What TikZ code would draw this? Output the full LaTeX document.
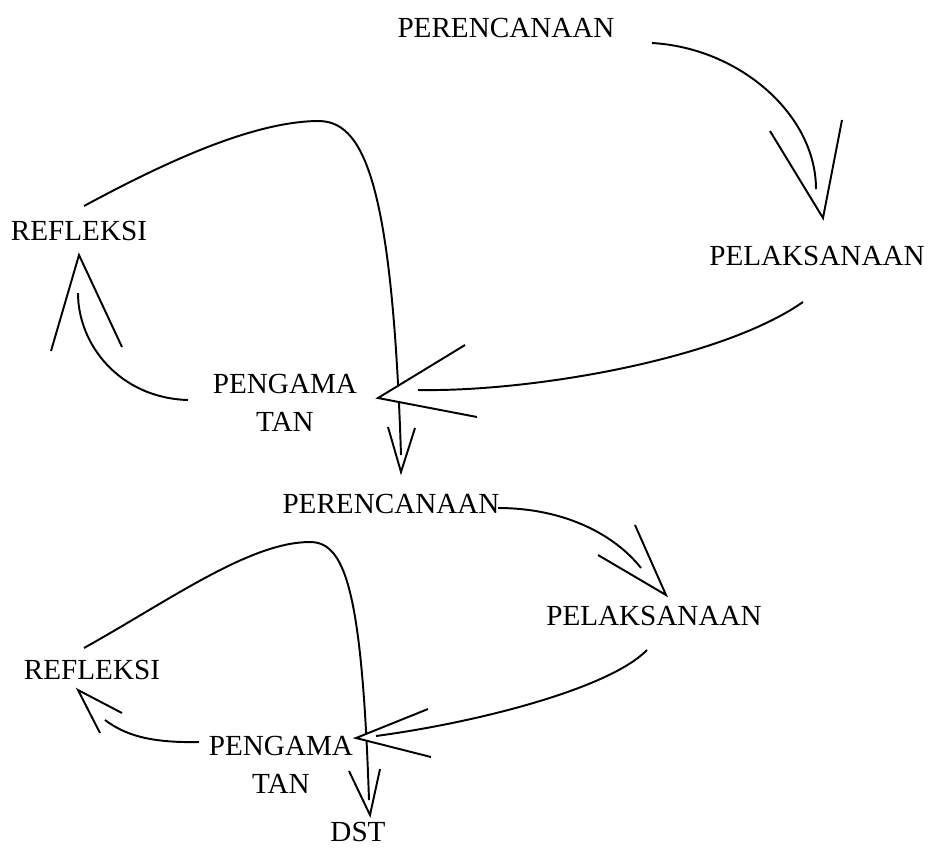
\documentclass[tikz,border=0pt]{standalone}
\usepackage{fontspec}
\setmainfont{Liberation Serif}
\begin{document}
\begin{tikzpicture}[x=0.4117pt,y=-0.4117pt,line width=0.8pt,
    lbl/.style={inner sep=0pt,font=\fontsize{12}{15.6}\selectfont},
    head/.style={line join=miter},
    cover/.style={head,fill=white}]
  \useasboundingbox (0,0) rectangle (930,848);
  % first cycle
  \node[lbl] (plan1) at (506,28) {PERENCANAAN};
  \node[lbl] (act1) at (817,256) {PELAKSANAAN};
  \node[lbl,align=center] (obs1) at (285,403) {PENGAMA\\TAN};
  \node[lbl] (refl1) at (79,231) {REFLEKSI};
  % second cycle
  \node[lbl] (plan2) at (391,504) {PERENCANAAN};
  \node[lbl] (act2) at (654,616) {PELAKSANAAN};
  \node[lbl,align=center] (obs2) at (281,765) {PENGAMA\\TAN};
  \node[lbl] (refl2) at (92,670) {REFLEKSI};
  \node[lbl] (dst) at (358,832) {DST};
  % ends of the curves
  \coordinate (c1a) at (652,43);  \coordinate (c1b) at (816,189);
  \coordinate (c2a) at (803,302); \coordinate (c2b) at (418,390);
  \coordinate (c3a) at (188,400); \coordinate (c3b) at (78,293);
  \coordinate (c4a) at (84,206);  \coordinate (c4b) at (401,455);
  \coordinate (c5a) at (498,508); \coordinate (c5b) at (641,568);
  \coordinate (c6a) at (647,650); \coordinate (c6b) at (376,736);
  \coordinate (c7a) at (199,742); \coordinate (c7b) at (105,720);
  \coordinate (c8a) at (84,648);  \coordinate (c8b) at (369,800);
  % tips
  \coordinate (t1) at (823,218); \coordinate (t2) at (378,398);
  \coordinate (t3) at (79,255);  \coordinate (t4) at (401,472);
  \coordinate (t5) at (666,595); \coordinate (t6) at (356,738);
  \coordinate (t7) at (78,690);  \coordinate (t8) at (370,815);
  % the two loops go under the heads
  \draw (c4a) .. controls (160,165) and (250,122) .. (317,121)
        .. controls (362,120) and (392,175) .. (c4b);
  \draw (c8a) .. controls (170,600) and (250,542) .. (310,542)
        .. controls (345,542) and (362,590) .. (c8b);
  \filldraw[cover] (465,345) -- (t2) -- (477,417);
  \filldraw[cover] (428,709) -- (t6) -- (431,757);
  % heads
  \draw[head] (770,131) -- (t1) -- (842,120);
  \draw[head] (51,351) -- (t3) -- (122,347);
  \draw[head] (388,427) -- (t4) -- (415,428);
  \draw[head] (598,555) -- (t5) -- (635,525);
  \draw[head] (122,713) -- (t7) -- (100,733);
  \draw[head] (349,771) -- (t8) -- (380,769);
  % curves
  \draw (c1a) .. controls (740,48) and (816,115) .. (c1b);
  \draw (c2a) .. controls (720,360) and (530,392) .. (c2b);
  \draw (c3a) .. controls (120,398) and (78,345) .. (c3b);
  \draw (c5a) .. controls (565,508) and (615,535) .. (c5b);
  \draw (c6a) .. controls (610,688) and (480,722) .. (c6b);
  \draw (c7a) .. controls (150,743) and (125,735) .. (c7b);
\end{tikzpicture}
\end{document}
